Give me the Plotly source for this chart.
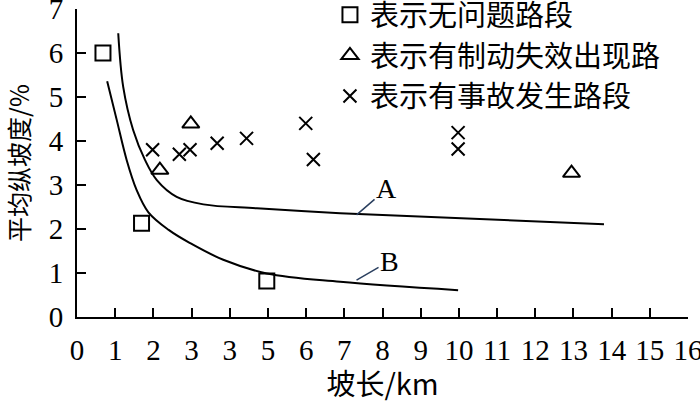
import plotly.graph_objects as go

# 散点数据 (坡长 km, 平均纵坡度 %)
ok_x = [0.68, 1.69, 4.97]
ok_y = [6.0, 2.13, 0.82]

brake_x = [2.17, 2.98, 12.95]
brake_y = [3.34, 4.39, 3.27]

acc_x = [1.98, 2.68, 2.96, 3.67, 4.44, 5.99, 6.19, 9.98, 9.98]
acc_y = [3.80, 3.70, 3.80, 3.95, 4.06, 4.40, 3.58, 4.19, 3.82]

# 曲线 A / B
a_x = [1.08, 1.21, 1.47, 1.78, 2.09, 2.61, 3.31, 4.71, 6.89, 13.80]
a_y = [6.45, 5.23, 4.25, 3.57, 3.11, 2.73, 2.56, 2.47, 2.36, 2.11]

b_x = [0.79, 1.04, 1.30, 1.56, 1.87, 2.40, 2.96, 3.83, 4.97, 6.89, 9.98]
b_y = [5.36, 4.48, 3.57, 2.89, 2.38, 1.98, 1.68, 1.30, 0.99, 0.80, 0.61]

x_ticks = list(range(17))
x_ticktext = ["0", "1", "2", "3", "3", "5", "6", "7", "8", "9", "10",
              "11", "12", "13", "14", "15", "16"]

serif = "Liberation Serif"
cjk = "Noto Sans CJK SC"

fig = go.Figure()

fig.add_trace(go.Scatter(x=a_x, y=a_y, mode="lines", line=dict(color="black", width=2, shape="spline"),
                         showlegend=False, hoverinfo="skip"))
fig.add_trace(go.Scatter(x=b_x, y=b_y, mode="lines", line=dict(color="black", width=2, shape="spline"),
                         showlegend=False, hoverinfo="skip"))

fig.add_trace(go.Scatter(x=ok_x, y=ok_y, mode="markers", name="表示无问题路段",
                         marker=dict(symbol="square-open", size=15, color="black", line=dict(width=2))))
fig.add_trace(go.Scatter(x=brake_x, y=brake_y, mode="markers", name="表示有制动失效出现路",
                         marker=dict(symbol="triangle-up-open", size=15, color="black", line=dict(width=2))))
fig.add_trace(go.Scatter(x=acc_x, y=acc_y, mode="markers", name="表示有事故发生路段",
                         marker=dict(symbol="x-thin-open", size=13, color="black", line=dict(width=2))))

fig.add_annotation(x=7.32, y=2.32, text="A", showarrow=True, arrowhead=0, arrowwidth=1.5,
                   ax=30, ay=-26, font=dict(family=serif, size=28, color="black"))
fig.add_annotation(x=7.32, y=0.84, text="B", showarrow=True, arrowhead=0, arrowwidth=1.5,
                   ax=33, ay=-19, font=dict(family=serif, size=28, color="black"))

axis_common = dict(showline=True, linecolor="black", linewidth=2, ticks="inside", ticklen=9,
                   tickwidth=2, tickcolor="black", showgrid=False, zeroline=False,
                   ticklabeloverflow="allow", ticklabelstandoff=6,
                   tickfont=dict(family=serif, size=29, color="black"))

fig.update_layout(
    width=700, height=403,
    margin=dict(l=77, r=12, t=9, b=86, autoexpand=False),
    plot_bgcolor="white", paper_bgcolor="white",
    xaxis=dict(range=[0, 16], tickvals=x_ticks, ticktext=x_ticktext, automargin=True,
               title=dict(text="坡长/km", font=dict(family=cjk, size=29, color="black"), standoff=12),
               **axis_common),
    yaxis=dict(range=[0, 7], tickvals=list(range(8)), automargin=False,
               title=dict(text="平均纵坡度/%", font=dict(family=cjk, size=25, color="black"), standoff=17),
               **axis_common),
    legend=dict(x=0.414, y=1.064, xanchor="left", yanchor="top", bgcolor="rgba(0,0,0,0)",
                font=dict(family=cjk, size=29, color="black"), itemwidth=30),
)

# remove the default page margin so the figure sits at the window's corner
fig.write_html("out.html", config={"displayModeBar": False},
               post_script="document.body.style.margin='0';")
